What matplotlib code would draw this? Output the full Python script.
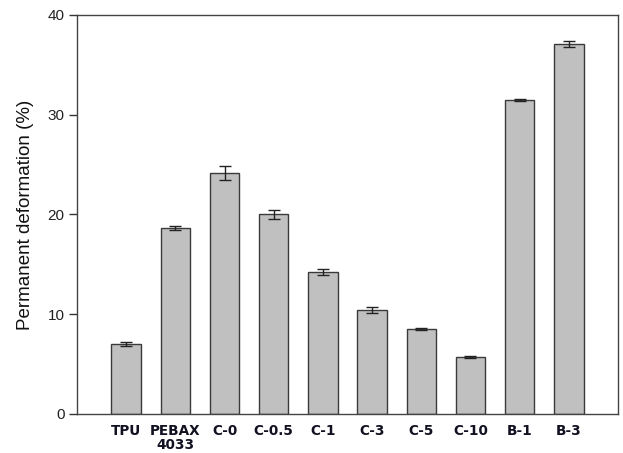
import matplotlib
matplotlib.use("Agg")
import matplotlib.pyplot as plt
import numpy as np

categories = ["TPU", "PEBAX\n4033", "C-0", "C-0.5", "C-1", "C-3", "C-5", "C-10", "B-1", "B-3"]
values = [7.0, 18.6, 24.2, 20.0, 14.25, 10.4, 8.55, 5.7, 31.45, 37.1]
errors = [0.2, 0.2, 0.7, 0.45, 0.3, 0.3, 0.08, 0.08, 0.12, 0.3]
yticks = [0, 10, 20, 30, 40]

fig = plt.figure(figsize=(6.23, 4.53), dpi=100)
ax = fig.add_axes([0.1236, 0.0861, 0.992 - 0.1236, 0.9669 - 0.0861])

x = np.arange(len(categories))
ax.bar(x, values, width=0.6, color="#c0c0c0", edgecolor="#3a3a3a", linewidth=1.0,
       yerr=errors, capsize=4.3, error_kw=dict(ecolor="#222222", elinewidth=1.0, capthick=1.0), zorder=2)

ax.set_xlim(-1, 10)
ax.set_ylim(0, 40)
ax.set_yticks(yticks)
ax.set_yticklabels([str(t) for t in yticks], fontfamily="Liberation Sans", fontsize=11, color="#222222")
ax.tick_params(axis="y", direction="out", length=6, width=1, color="#333333", pad=3)
ax.set_xticks(x)
ax.set_xticklabels(categories, fontfamily="DejaVu Sans", fontweight="bold", fontsize=9.8,
                   color="#111122", linespacing=1.05)
ax.tick_params(axis="x", length=0, pad=7)
for s in ax.spines.values():
    s.set_color("#444444")
    s.set_linewidth(1.0)

ax.set_ylabel("Permanent deformation (%)", fontfamily="Liberation Sans", fontsize=13.5, color="#111111", labelpad=10)

fig.savefig("out.png", dpi=100)
